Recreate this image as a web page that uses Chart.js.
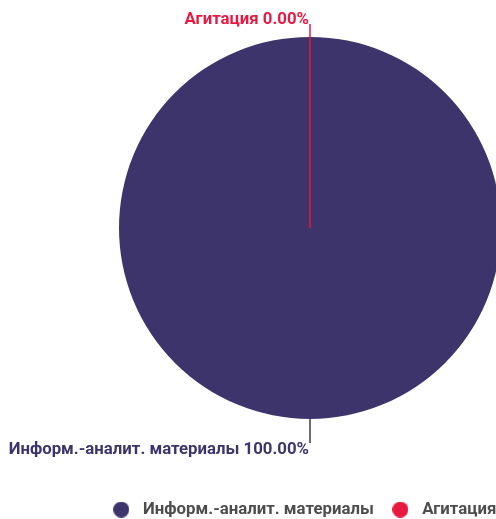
<!DOCTYPE html>
<html>
<head>
<meta charset="utf-8">
<script src="https://cdn.jsdelivr.net/npm/chart.js@4.4.0/dist/chart.umd.min.js"></script>
<style>
  html, body { margin: 0; padding: 0; background: #fff; }
  #wrap { width: 496px; height: 519px; overflow: hidden; position: relative; }
  #box { width: 620px; height: 528px; }
</style>
</head>
<body>
<div id="wrap"><div id="box"><canvas id="chartShare"></canvas></div></div>
<script>
// Chart data
const categories = ['Информ.-аналит. материалы', 'Агитация'];
const values = [100, 0];
const sliceColors = ['#3D346B', '#E81940'];

// Small round marker for the legend
function makeDot(color) {
  const c = document.createElement('canvas');
  c.width = 16;
  c.height = 16;
  const g = c.getContext('2d');
  g.fillStyle = color;
  g.beginPath();
  g.arc(8, 8, 8, 0, Math.PI * 2);
  g.fill();
  return c;
}

// Leader lines and percentage labels, plus a small nudge of the legend
const pieLabels = {
  id: 'pieLabels',
  afterLayout(chart, args, opts) {
    if (chart.legend) {
      chart.legend.left += opts.legendShift;
      chart.legend.right += opts.legendShift;
    }
  },
  afterDatasetsDraw(chart, args, opts) {
    const ctx = chart.ctx;
    const meta = chart.getDatasetMeta(0);
    const data = chart.data.datasets[0].data;
    const total = data.reduce((a, b) => a + b, 0);

    meta.data.forEach((arc, i) => {
      const p = arc.getProps(['x', 'y', 'startAngle', 'endAngle', 'outerRadius'], true);
      const mid = (p.startAngle + p.endAngle) / 2;
      const dx = Math.cos(mid);
      const dy = Math.sin(mid);
      const up = dy < 0;
      const r0 = data[i] === 0 ? 0 : p.outerRadius;
      const r1 = p.outerRadius + (up ? opts.extendUp : opts.extendDown);
      const x0 = p.x + dx * r0, y0 = p.y + dy * r0;
      const x1 = p.x + dx * r1, y1 = p.y + dy * r1;

      ctx.save();
      ctx.strokeStyle = sliceColors[i];
      ctx.lineWidth = 1.5;
      ctx.beginPath();
      ctx.moveTo(x0, y0);
      ctx.lineTo(x1, y1);
      ctx.stroke();

      const pct = (total ? data[i] / total * 100 : 0).toFixed(2);
      ctx.font = opts.font;
      ctx.fillStyle = sliceColors[i];
      ctx.textAlign = 'right';
      ctx.textBaseline = 'alphabetic';
      ctx.fillText(categories[i] + ' ' + pct + '%', x1 - 1, up ? y1 : y1 + 11);
      ctx.restore();
    });
  }
};

const ctx = document.getElementById('chartShare');
new Chart(ctx, {
  type: 'pie',
  data: {
    labels: categories,
    datasets: [{
      data: values,
      backgroundColor: sliceColors,
      borderWidth: 0,
      radius: 191
    }]
  },
  options: {
    responsive: true,
    maintainAspectRatio: false,
    animation: false,
    layout: { padding: 0 },
    plugins: {
      tooltip: { enabled: false },
      legend: {
        position: 'bottom',
        title: {
          display: true,
          text: '',
          padding: { top: 18, bottom: 0 },
          font: { size: 12 }
        },
        labels: {
          usePointStyle: true,
          pointStyleWidth: 27,
          padding: 13,
          color: '#4d4d4d',
          font: { family: 'Roboto', size: 16.8, weight: 'bold' },
          generateLabels(chart) {
            const base = Chart.overrides.pie.plugins.legend.labels.generateLabels(chart);
            return base.map(item => Object.assign(item, { pointStyle: makeDot(item.fillStyle) }));
          }
        }
      },
      pieLabels: {
        extendUp: 13,
        extendDown: 24,
        legendShift: -8,
        font: 'bold 16.8px Roboto'
      }
    }
  },
  plugins: [pieLabels]
});
</script>
</body>
</html>
